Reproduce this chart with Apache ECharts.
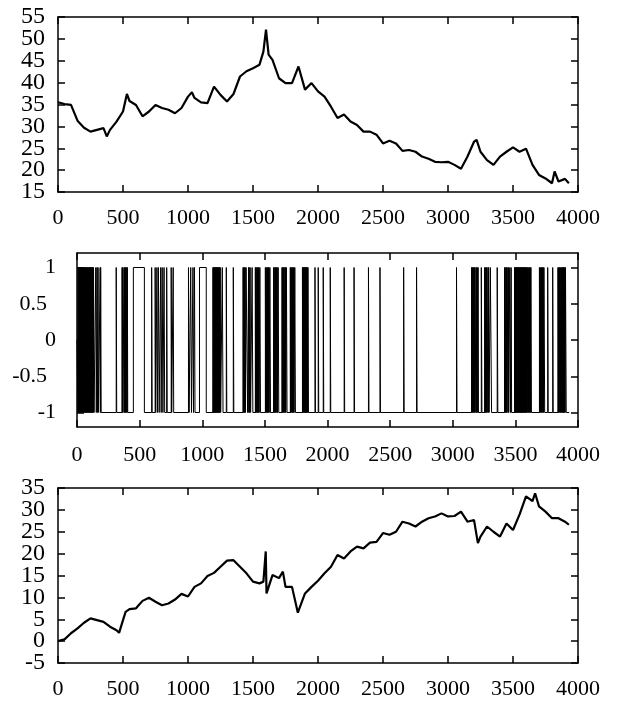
<!DOCTYPE html>
<html><head><meta charset="utf-8">
<script src="https://cdn.jsdelivr.net/npm/echarts@6/dist/echarts.min.js"></script>
<style>html,body{margin:0;padding:0;background:#fff}#c{width:626px;height:706px}</style>
</head><body><div id="c"></div>
<script>
// ---- data ----
const priceT = [0,50,100,150,200,250,300,350,375,400,450,500,530,550,600,650,700,750,800,850,900,950,1000,1030,1050,1100,1150,1200,1250,1300,1350,1400,1450,1500,1550,1580,1600,1620,1650,1700,1750,1800,1850,1900,1950,2000,2050,2100,2150,2200,2250,2300,2350,2400,2450,2500,2550,2600,2650,2700,2750,2800,2850,2900,2950,3000,3050,3100,3150,3200,3220,3250,3300,3350,3400,3450,3500,3550,3600,3650,3700,3750,3800,3820,3850,3900,3930];
const priceV = [35.5,35.1,34.9,31.3,29.7,28.8,29.2,29.6,27.7,29.2,31.1,33.4,37.4,35.8,34.9,32.3,33.4,34.9,34.2,33.8,33.0,34.2,36.8,37.8,36.5,35.5,35.3,39.1,37.2,35.7,37.4,41.4,42.6,43.3,44.1,47.1,52.1,46.4,45.2,41.0,39.9,39.9,43.7,38.4,39.9,38.0,36.8,34.5,31.9,32.7,31.1,30.3,28.8,28.8,28.1,26.1,26.7,26.1,24.4,24.6,24.2,23.1,22.6,21.9,21.8,21.9,21.2,20.3,23.1,26.5,26.9,24.2,22.3,21.2,23.1,24.2,25.2,24.2,24.9,21.2,18.9,18.1,17.0,19.7,17.4,18.0,17.0];

const signFirst = 0;      // value at t = 0
const signBase = -1;      // value outside the "up" intervals
const signTop = 1;        // value inside the "up" intervals
const signEnd = 3930;
const upStart = [8,12,16,20,24,28,32,36,40,44,48,52,56,60,64,68,72,76,80,84,88,92,96,100,104,108,112,116,120,124,128,132,150,160,168,185,189,313,360,364,375,380,386,390,398,402,450,596,624,638,650,668,680,695,716,752,768,890,908,926,938,978,1086,1089,1092,1096,1100,1104,1108,1112,1116,1120,1124,1128,1132,1136,1140,1143,1160,1192,1248,1326,1330,1338,1342,1350,1370,1374,1382,1398,1424,1428,1436,1440,1448,1452,1460,1504,1508,1516,1520,1528,1532,1540,1570,1574,1582,1586,1594,1598,1606,1637,1641,1649,1653,1661,1665,1672,1703,1707,1715,1719,1727,1731,1739,1800,1804,1808,1812,1816,1820,1824,1828,1832,1836,1840,1844,1900,1926,1966,2022,2133,2212,2327,2419,2608,2711,3030,3150,3154,3160,3164,3172,3176,3186,3190,3198,3202,3228,3255,3259,3268,3272,3282,3286,3300,3355,3414,3418,3426,3430,3440,3444,3455,3466,3494,3498,3502,3506,3510,3514,3518,3522,3526,3530,3534,3538,3542,3546,3550,3554,3558,3562,3566,3570,3574,3578,3582,3586,3590,3596,3602,3608,3614,3620,3624,3692,3698,3704,3710,3716,3722,3728,3758,3798,3840,3846,3852,3858,3864,3870,3876,3880,3884,3888,3894,3900];
const upEnd   = [10,14,18,22,26,30,34,38,42,46,50,54,58,62,66,70,74,78,82,86,90,94,98,102,106,110,114,118,122,126,130,136,154,163,172,187,193,317,362,367,378,383,388,393,400,405,538,600,628,642,656,672,686,700,720,756,772,895,914,930,942,1032,1087,1090,1094,1098,1102,1106,1110,1114,1118,1122,1126,1130,1134,1138,1141,1147,1166,1196,1252,1328,1334,1340,1344,1362,1372,1376,1386,1404,1426,1432,1438,1442,1450,1454,1465,1506,1512,1518,1522,1530,1534,1545,1572,1578,1584,1588,1596,1600,1611,1639,1645,1651,1655,1663,1667,1677,1705,1711,1717,1721,1729,1733,1744,1802,1806,1810,1814,1818,1822,1826,1830,1834,1838,1842,1848,1904,1930,1970,2026,2137,2216,2331,2423,2612,2715,3034,3152,3157,3162,3167,3174,3179,3188,3193,3200,3205,3233,3257,3262,3270,3275,3284,3290,3310,3360,3416,3421,3428,3433,3442,3447,3462,3470,3496,3500,3504,3508,3512,3516,3520,3524,3528,3532,3536,3540,3544,3548,3552,3556,3560,3564,3568,3572,3576,3580,3584,3588,3593,3599,3605,3611,3617,3622,3628,3695,3701,3707,3713,3719,3725,3734,3762,3802,3843,3849,3855,3861,3867,3873,3878,3882,3886,3891,3897,3906];

const cumT = [0,50,100,150,200,250,300,350,400,450,470,500,520,550,600,650,700,750,800,850,900,950,1000,1050,1100,1150,1200,1250,1300,1350,1400,1450,1500,1550,1580,1598,1604,1650,1700,1730,1750,1800,1845,1900,1950,2000,2050,2100,2150,2200,2250,2300,2350,2400,2450,2500,2550,2600,2650,2700,2750,2800,2850,2900,2950,3000,3050,3100,3150,3200,3230,3250,3300,3350,3400,3450,3500,3550,3600,3650,3670,3700,3750,3800,3850,3900,3930];
const cumV = [0,0.4,1.8,2.9,4.2,5.2,4.8,4.4,3.3,2.5,1.9,4.8,6.7,7.3,7.5,9.2,9.9,9.0,8.2,8.6,9.5,10.8,10.2,12.4,13.2,14.9,15.6,17.0,18.4,18.5,17.0,15.5,13.6,13.2,13.6,20.5,10.9,15.1,14.4,15.9,12.4,12.4,6.5,10.9,12.4,13.8,15.5,17.0,19.7,18.9,20.5,21.6,21.2,22.5,22.7,24.7,24.3,25.0,27.3,26.9,26.2,27.3,28.1,28.5,29.2,28.5,28.6,29.6,27.3,27.7,22.4,23.9,26.2,25.0,23.9,26.9,25.4,28.9,33.1,32.0,33.8,30.8,29.6,28.1,28.1,27.3,26.6];

const xMin = 0, xMax = 4000, xStep = 500;
const topYTicks = [15, 20, 25, 30, 35, 40, 45, 50, 55];
const midYTicks = [-1, -0.5, 0, 0.5, 1];
const botYTicks = [-5, 0, 5, 10, 15, 20, 25, 30, 35];
const midYRange = [-1.2, 1.2];

// ---- build series data ----
const pricePts = priceT.map((t, i) => [t, priceV[i]]);
const cumPts = cumT.map((t, i) => [t, cumV[i]]);
const signPts = [[0, signFirst]];
upStart.forEach((a, i) => {
  const b = upEnd[i];
  signPts.push([a, signBase], [a, signTop], [b, signTop], [b, signBase]);
});
signPts.push([signEnd, signBase]);

// ---- chart ----
const FONT = 'Liberation Serif';
const lineCol = '#000';
const grids = [
  {left: 58, right: 48, top: 17, height: 175},
  {left: 77, right: 48, top: 253, height: 174},
  {left: 58, right: 48, top: 488, height: 175}
];
const xLabelMargin = [15, 17, 15];
const yLabelMargin = [13, 21, 13];
const yFontSize = [24, 22, 24];
const yTicks = [topYTicks, midYTicks, botYTicks];

const baseAxisLine = {show: true, onZero: false, lineStyle: {color: lineCol, width: 1.5}};
const baseTick = {show: true, inside: true, length: 7, lineStyle: {color: lineCol, width: 1.5}};
const yLabelText = v => {
  const s = String(v);
  return s.indexOf('.') >= 0 ? '{n|' + s + '}{gap|}' : '{n|' + s + '}';
};

const xAxes = [], yAxes = [];
grids.forEach((g, gi) => {
  ['bottom', 'top'].forEach(pos => {
    xAxes.push({
      type: 'value', gridIndex: gi, position: pos, min: xMin, max: xMax, interval: xStep,
      axisLine: baseAxisLine, axisTick: baseTick, splitLine: {show: false},
      axisLabel: {show: pos === 'bottom', margin: xLabelMargin[gi], fontFamily: FONT, fontSize: 22, color: '#000',
                  formatter: v => String(v), showMinLabel: true, showMaxLabel: true, hideOverlap: false}
    });
  });
  const ticks = yTicks[gi];
  const lo = gi === 1 ? midYRange[0] : ticks[0];
  const hi = gi === 1 ? midYRange[1] : ticks[ticks.length - 1];
  // alternate labels go on two stacked left axes so that none of them gets dropped
  const labelsA = ticks.filter((v, i) => i % 2 === 0);
  const labelsB = ticks.filter((v, i) => i % 2 === 1);
  const mkLabel = (vals) => ({
    show: true, customValues: vals, margin: yLabelMargin[gi],
    showMinLabel: true, showMaxLabel: true, hideOverlap: false,
    formatter: yLabelText,
    rich: {n: {fontFamily: FONT, fontSize: yFontSize[gi], color: '#000'}, gap: {width: 9}}
  });
  yAxes.push({
    type: 'value', gridIndex: gi, position: 'left', min: lo, max: hi,
    axisLine: baseAxisLine, splitLine: {show: false},
    axisTick: Object.assign({customValues: ticks}, baseTick),
    axisLabel: mkLabel(labelsA)
  });
  yAxes.push({
    type: 'value', gridIndex: gi, position: 'right', min: lo, max: hi,
    axisLine: baseAxisLine, splitLine: {show: false},
    axisTick: Object.assign({customValues: ticks}, baseTick),
    axisLabel: {show: false}
  });
  yAxes.push({
    type: 'value', gridIndex: gi, position: 'left', offset: 0, min: lo, max: hi,
    axisLine: {show: false}, axisTick: {show: false}, splitLine: {show: false},
    axisLabel: mkLabel(labelsB)
  });
});

const chart = echarts.init(document.getElementById('c'), null, {renderer: 'canvas'});
chart.setOption({
  animation: false,
  backgroundColor: '#fff',
  grid: grids,
  xAxis: xAxes,
  yAxis: yAxes,
  series: [
    {type: 'line', xAxisIndex: 0, yAxisIndex: 0, data: pricePts, showSymbol: false, symbol: 'none',
     lineStyle: {color: lineCol, width: 2.2}},
    {type: 'line', xAxisIndex: 2, yAxisIndex: 3, data: signPts, showSymbol: false, symbol: 'none',
     lineStyle: {color: lineCol, width: 1}},
    {type: 'line', xAxisIndex: 4, yAxisIndex: 6, data: cumPts, showSymbol: false, symbol: 'none',
     lineStyle: {color: lineCol, width: 2.2}}
  ]
});
</script></body></html>
